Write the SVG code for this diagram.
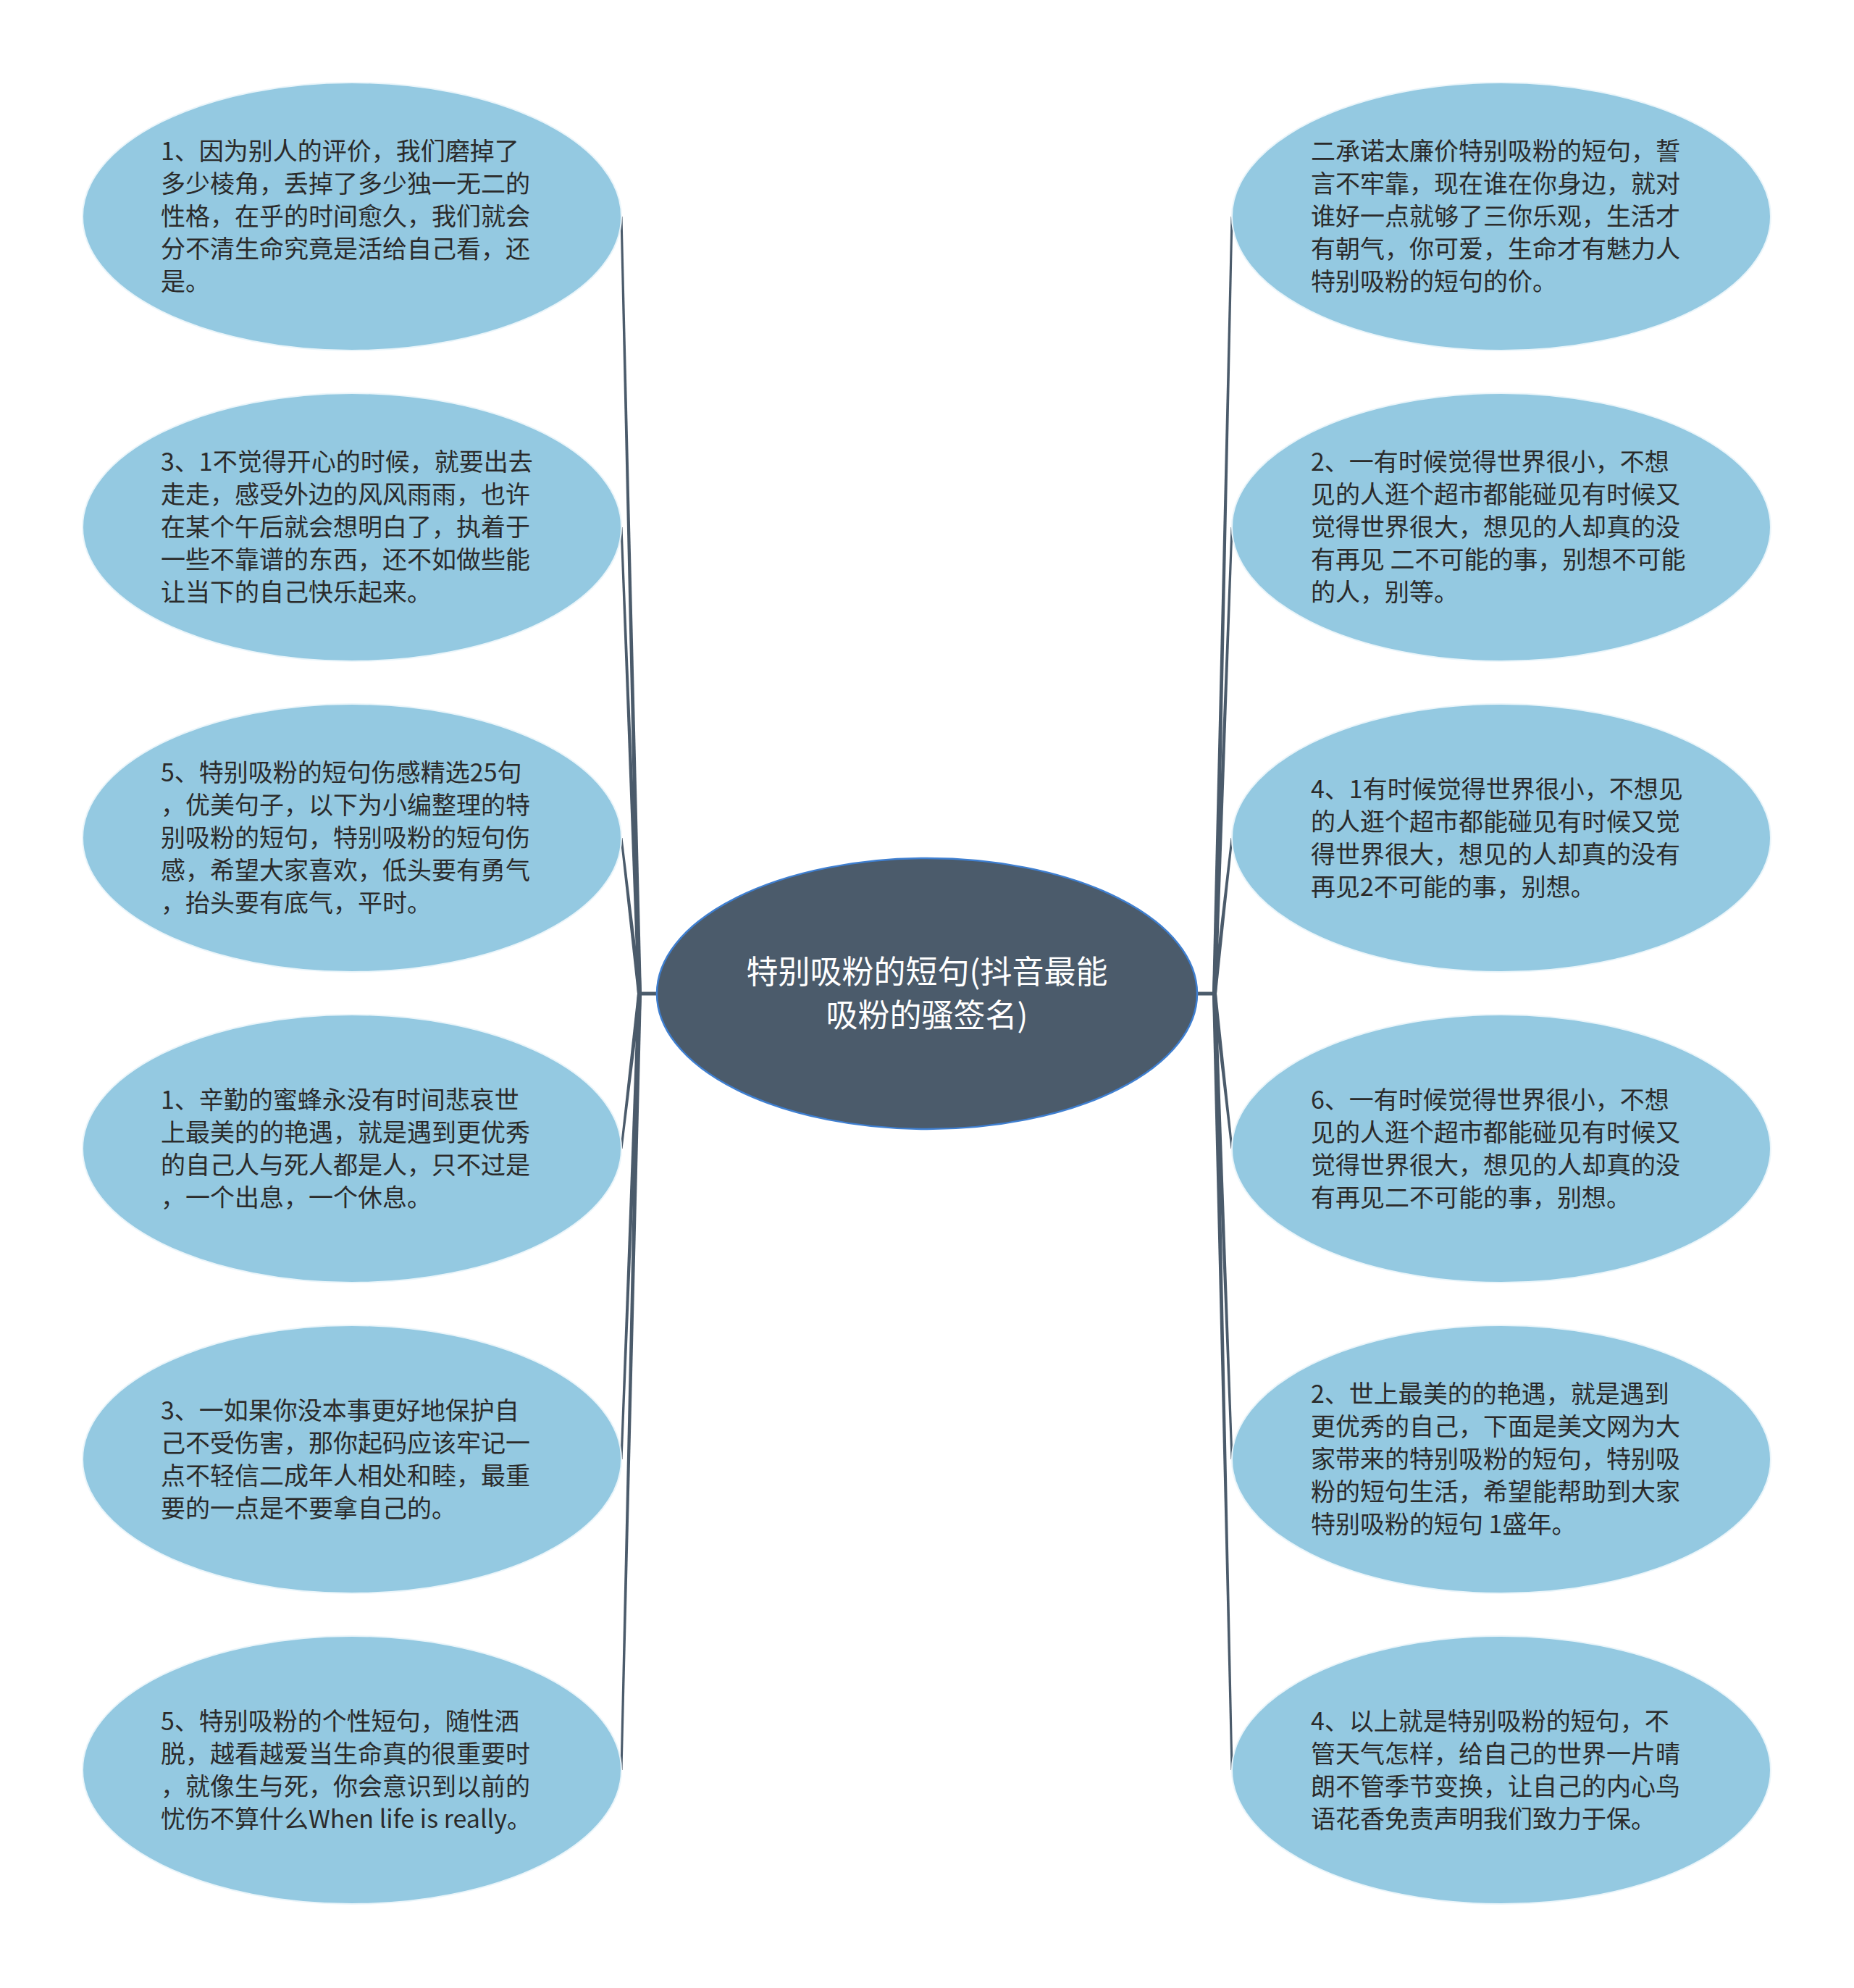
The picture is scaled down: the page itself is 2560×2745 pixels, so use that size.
<svg xmlns="http://www.w3.org/2000/svg" width="2560" height="2745" viewBox="0 0 2560 2745">
<style>
.node ellipse{fill:#94c9e1;stroke:#eaf5fa;stroke-width:2}
.node text{font-family:"Noto Sans CJK SC","Noto Sans",sans-serif;font-size:34px;fill:#2b2b2b}
.root ellipse{fill:#4b5b6b;stroke:#3f7fd0;stroke-width:2.5}
.root text{font-family:"Noto Sans CJK SC","Noto Sans",sans-serif;font-size:44px;fill:#ffffff;text-anchor:middle}
.conn polygon{fill:#4b5b6b}
.conn line{stroke:#4b5b6b;stroke-width:5}
</style>
<rect width="2560" height="2745" fill="#ffffff"/>
<g id="connectors" class="conn">
<line x1="883" y1="1372" x2="910" y2="1372"/>
<line x1="1650" y1="1372" x2="1677" y2="1372"/>
<polygon points="856.5,299 859.5,299 886,1372 880,1372"/>
<polygon points="856.5,728 859.5,728 886,1372 880,1372"/>
<polygon points="856.5,1157 859.5,1157 886,1372 880,1372"/>
<polygon points="856.5,1586 859.5,1586 886,1372 880,1372"/>
<polygon points="856.5,2015 859.5,2015 886,1372 880,1372"/>
<polygon points="856.5,2444 859.5,2444 886,1372 880,1372"/>
<polygon points="1699.5,299 1702.5,299 1680,1372 1674,1372"/>
<polygon points="1699.5,728 1702.5,728 1680,1372 1674,1372"/>
<polygon points="1699.5,1157 1702.5,1157 1680,1372 1674,1372"/>
<polygon points="1699.5,1586 1702.5,1586 1680,1372 1674,1372"/>
<polygon points="1699.5,2015 1702.5,2015 1680,1372 1674,1372"/>
<polygon points="1699.5,2444 1702.5,2444 1680,1372 1674,1372"/>
</g>
<g id="root" class="root">
<ellipse cx="1280" cy="1372" rx="373" ry="187"/>
<text><tspan x="1280" y="1358">特别吸粉的短句(抖音最能</tspan><tspan x="1280" y="1418">吸粉的骚签名)</tspan></text>
</g>
<g id="L1" class="node">
<ellipse cx="486" cy="299" rx="372" ry="185"/>
<text><tspan x="222" y="221">1、因为别人的评价，我们磨掉了</tspan><tspan x="222" y="266">多少棱角，丢掉了多少独一无二的</tspan><tspan x="222" y="311">性格，在乎的时间愈久，我们就会</tspan><tspan x="222" y="356">分不清生命究竟是活给自己看，还</tspan><tspan x="222" y="401">是。</tspan></text>
</g>
<g id="L2" class="node">
<ellipse cx="486" cy="728" rx="372" ry="185"/>
<text><tspan x="222" y="650">3、1不觉得开心的时候，就要出去</tspan><tspan x="222" y="695">走走，感受外边的风风雨雨，也许</tspan><tspan x="222" y="740">在某个午后就会想明白了，执着于</tspan><tspan x="222" y="785">一些不靠谱的东西，还不如做些能</tspan><tspan x="222" y="830">让当下的自己快乐起来。</tspan></text>
</g>
<g id="L3" class="node">
<ellipse cx="486" cy="1157" rx="372" ry="185"/>
<text><tspan x="222" y="1079">5、特别吸粉的短句伤感精选25句</tspan><tspan x="222" y="1124">，优美句子，以下为小编整理的特</tspan><tspan x="222" y="1169">别吸粉的短句，特别吸粉的短句伤</tspan><tspan x="222" y="1214">感，希望大家喜欢，低头要有勇气</tspan><tspan x="222" y="1259">，抬头要有底气，平时。</tspan></text>
</g>
<g id="L4" class="node">
<ellipse cx="486" cy="1586" rx="372" ry="185"/>
<text><tspan x="222" y="1531">1、辛勤的蜜蜂永没有时间悲哀世</tspan><tspan x="222" y="1576">上最美的的艳遇，就是遇到更优秀</tspan><tspan x="222" y="1621">的自己人与死人都是人，只不过是</tspan><tspan x="222" y="1666">，一个出息，一个休息。</tspan></text>
</g>
<g id="L5" class="node">
<ellipse cx="486" cy="2015" rx="372" ry="185"/>
<text><tspan x="222" y="1960">3、一如果你没本事更好地保护自</tspan><tspan x="222" y="2005">己不受伤害，那你起码应该牢记一</tspan><tspan x="222" y="2050">点不轻信二成年人相处和睦，最重</tspan><tspan x="222" y="2095">要的一点是不要拿自己的。</tspan></text>
</g>
<g id="L6" class="node">
<ellipse cx="486" cy="2444" rx="372" ry="185"/>
<text><tspan x="222" y="2389">5、特别吸粉的个性短句，随性洒</tspan><tspan x="222" y="2434">脱，越看越爱当生命真的很重要时</tspan><tspan x="222" y="2479">，就像生与死，你会意识到以前的</tspan><tspan x="222" y="2524">忧伤不算什么When life is really。</tspan></text>
</g>
<g id="R1" class="node">
<ellipse cx="2073" cy="299" rx="372" ry="185"/>
<text><tspan x="1810" y="221">二承诺太廉价特别吸粉的短句，誓</tspan><tspan x="1810" y="266">言不牢靠，现在谁在你身边，就对</tspan><tspan x="1810" y="311">谁好一点就够了三你乐观，生活才</tspan><tspan x="1810" y="356">有朝气，你可爱，生命才有魅力人</tspan><tspan x="1810" y="401">特别吸粉的短句的价。</tspan></text>
</g>
<g id="R2" class="node">
<ellipse cx="2073" cy="728" rx="372" ry="185"/>
<text><tspan x="1810" y="650">2、一有时候觉得世界很小，不想</tspan><tspan x="1810" y="695">见的人逛个超市都能碰见有时候又</tspan><tspan x="1810" y="740">觉得世界很大，想见的人却真的没</tspan><tspan x="1810" y="785">有再见 二不可能的事，别想不可能</tspan><tspan x="1810" y="830">的人，别等。</tspan></text>
</g>
<g id="R3" class="node">
<ellipse cx="2073" cy="1157" rx="372" ry="185"/>
<text><tspan x="1810" y="1102">4、1有时候觉得世界很小，不想见</tspan><tspan x="1810" y="1147">的人逛个超市都能碰见有时候又觉</tspan><tspan x="1810" y="1192">得世界很大，想见的人却真的没有</tspan><tspan x="1810" y="1237">再见2不可能的事，别想。</tspan></text>
</g>
<g id="R4" class="node">
<ellipse cx="2073" cy="1586" rx="372" ry="185"/>
<text><tspan x="1810" y="1531">6、一有时候觉得世界很小，不想</tspan><tspan x="1810" y="1576">见的人逛个超市都能碰见有时候又</tspan><tspan x="1810" y="1621">觉得世界很大，想见的人却真的没</tspan><tspan x="1810" y="1666">有再见二不可能的事，别想。</tspan></text>
</g>
<g id="R5" class="node">
<ellipse cx="2073" cy="2015" rx="372" ry="185"/>
<text><tspan x="1810" y="1937">2、世上最美的的艳遇，就是遇到</tspan><tspan x="1810" y="1982">更优秀的自己，下面是美文网为大</tspan><tspan x="1810" y="2027">家带来的特别吸粉的短句，特别吸</tspan><tspan x="1810" y="2072">粉的短句生活，希望能帮助到大家</tspan><tspan x="1810" y="2117">特别吸粉的短句 1盛年。</tspan></text>
</g>
<g id="R6" class="node">
<ellipse cx="2073" cy="2444" rx="372" ry="185"/>
<text><tspan x="1810" y="2389">4、以上就是特别吸粉的短句，不</tspan><tspan x="1810" y="2434">管天气怎样，给自己的世界一片晴</tspan><tspan x="1810" y="2479">朗不管季节变换，让自己的内心鸟</tspan><tspan x="1810" y="2524">语花香免责声明我们致力于保。</tspan></text>
</g>
</svg>
